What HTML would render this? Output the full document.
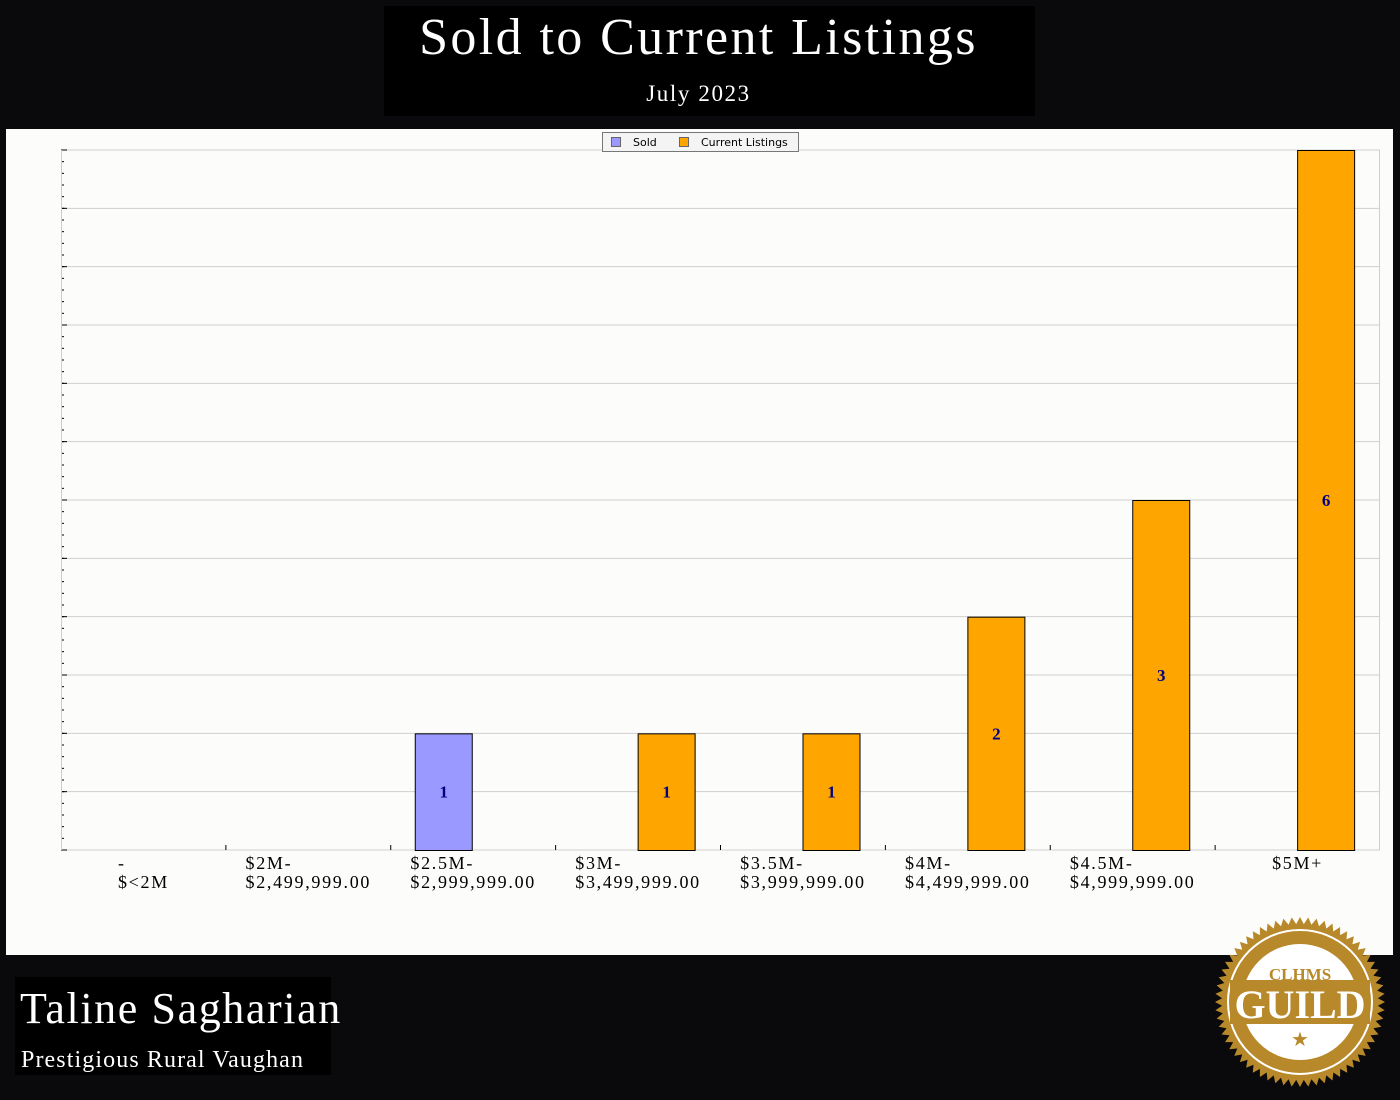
<!DOCTYPE html>
<html><head><meta charset="utf-8"><style>
body{margin:0;background:#0a090c;width:1400px;height:1100px;overflow:hidden;position:relative;font-family:"Liberation Serif",serif}
.title{position:absolute;left:384px;top:6px;width:651px;height:110px;background:#000;color:#fff;text-align:center}
.name{position:absolute;left:15px;top:977px;width:316px;height:98px;background:#000;color:#fff;white-space:nowrap}
</style></head><body>
<div class="title">
<div style="font-size:52px;line-height:62px;margin-top:1px;letter-spacing:2.4px;margin-left:-22px">Sold to Current Listings</div>
<div style="font-size:23px;margin-top:12px;letter-spacing:1.6px;margin-left:-22px">July 2023</div>
</div>
<svg id="chart" width="1400" height="1100" style="position:absolute;left:0;top:0">
<rect x="6" y="129" width="1387" height="826" fill="#fcfdfb"/>
<g id="grid"></g><g id="bars"></g><g id="xlabels" font-family="Liberation Serif, serif" font-size="18" fill="#000" letter-spacing="1.7"></g>
<g>
<rect x="602.5" y="132.5" width="196" height="19" fill="#f4f4f4" stroke="#777"/>
<rect x="611.5" y="137.5" width="9" height="9" fill="#9999ff" stroke="#666"/>
<text x="633" y="146" font-family="DejaVu Sans, sans-serif" font-size="11">Sold</text>
<rect x="679.5" y="137.5" width="9" height="9" fill="#ffa500" stroke="#666"/>
<text x="701" y="146" font-family="DejaVu Sans, sans-serif" font-size="11">Current Listings</text>
</g>
<g transform="translate(1300,1002)">
<polygon id="seal" fill="#b8892a"/>
<circle r="72" fill="none" stroke="#fff" stroke-width="2"/>
<circle r="58" fill="#fff"/>
<rect x="-70" y="-22" width="140" height="44" fill="#b8892a"/>
<text y="-22" text-anchor="middle" font-size="17" fill="#b8892a" font-weight="bold">CLHMS</text>
<text y="16" text-anchor="middle" font-size="40" fill="#fff" font-weight="bold">GUILD</text>
<text y="44" text-anchor="middle" font-size="20" fill="#b8892a">★</text>
</g>
</svg>
<div class="name">
<div style="font-size:44px;margin:8px 0 0 5px;line-height:48px;letter-spacing:1.6px">Taline Sagharian</div>
<div style="font-size:24px;margin:14px 0 0 6px;letter-spacing:1.1px">Prestigious Rural Vaughan</div>
</div>
<script>
const categories=[["-","$<2M"],["$2M-","$2,499,999.00"],["$2.5M-","$2,999,999.00"],["$3M-","$3,499,999.00"],["$3.5M-","$3,999,999.00"],["$4M-","$4,499,999.00"],["$4.5M-","$4,999,999.00"],["$5M+"]];
const soldValues=[0,0,1,0,0,0,0,0];
const currentValues=[0,0,0,1,1,2,3,6];
const yMax=6, yStep=0.5;
const NS="http://www.w3.org/2000/svg";
const L=61,R=1380,T=150,B=850,cw=(R-L)/categories.length;
const y=v=>B-(v/yMax)*(B-T);
const xc=i=>L+i*cw;
function mk(t,a,p){const e=document.createElementNS(NS,t);for(const k in a)e.setAttribute(k,a[k]);p.appendChild(e);return e;}
const grid=document.getElementById('grid'),bars=document.getElementById('bars'),xl=document.getElementById('xlabels');
for(let v=0;v<=yMax+1e-9;v+=yStep){const g=mk('line',{x1:L,x2:R,y1:y(v),y2:y(v),stroke:'#cfcfcf'},grid);


mk('line',{x1:L,x2:L+6,y1:y(v),y2:y(v),stroke:'#000'},grid);}
for(let v=0;v<yMax;v+=yStep/5)mk('line',{x1:L,x2:L+3,y1:y(v),y2:y(v),stroke:'#000'},grid);
mk('line',{x1:L+.5,x2:L+.5,y1:T,y2:B,stroke:'#cfcfcf'},grid);
mk('line',{x1:R-.5,x2:R-.5,y1:T,y2:B,stroke:'#cfcfcf'},grid);
for(let i=1;i<categories.length;i++)mk('line',{x1:xc(i),x2:xc(i),y1:B-5,y2:B,stroke:'#000'},grid);
function bar(i,v,off,col,nm){if(!v)return;const r=mk('rect',{x:xc(i)+off+.5,y:y(v)+.5,width:57,height:B-y(v),fill:col,stroke:'#000'},bars);


const t=mk('text',{x:xc(i)+off+29,y:(y(v)+B)/2+6,'text-anchor':'middle','font-family':'Liberation Serif, serif','font-size':'17','font-weight':'bold',fill:'#000080'},bars);
t.textContent=v;}
categories.forEach((c,i)=>{bar(i,soldValues[i],24,'#9999ff','bar-sold');bar(i,currentValues[i],82,'#ffa500','bar-current');
const g=mk('g',{},xl);


const ts=c.map((s,k)=>{const t=mk('text',{y:869+k*19},g);t.textContent=s;return t;});
const w=Math.max(...ts.map(t=>t.getComputedTextLength()));
ts.forEach(t=>t.setAttribute('x',xc(i)+cw/2-w/2));});
const pts=[];for(let k=0;k<128;k++){const r=k%2?78:85,a=k*Math.PI/64;pts.push((r*Math.cos(a)).toFixed(1)+','+(r*Math.sin(a)).toFixed(1));}
document.getElementById('seal').setAttribute('points',pts.join(' '));
</script>
</body></html>
